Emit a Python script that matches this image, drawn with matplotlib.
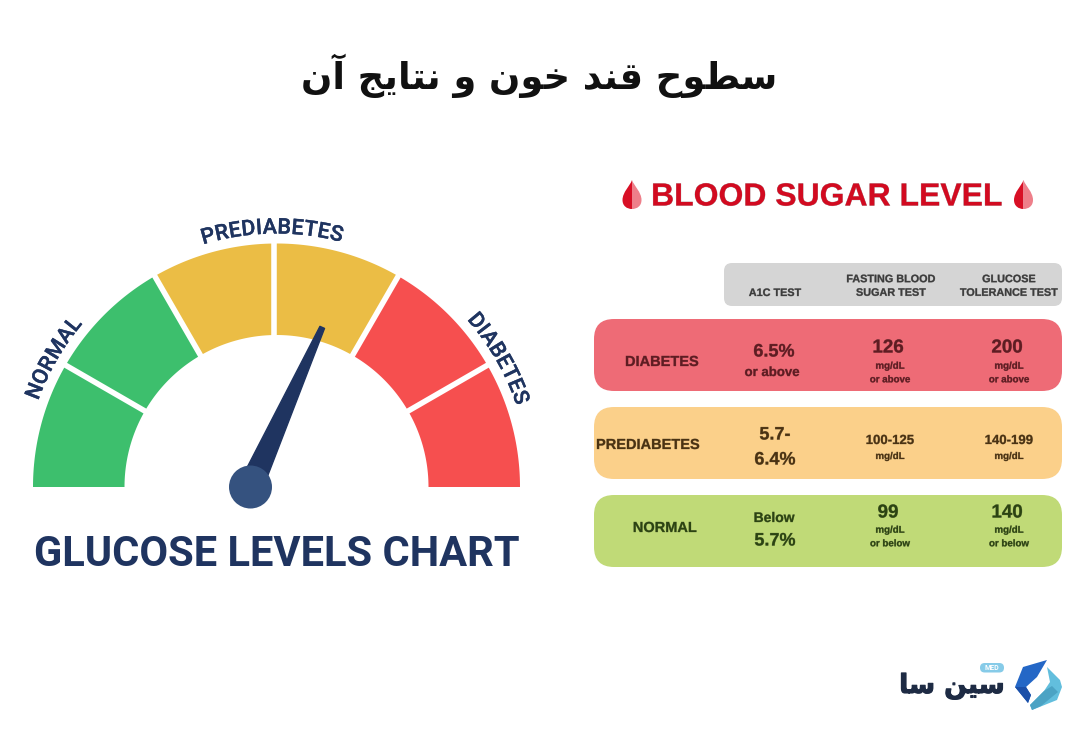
import numpy as np
from matplotlib import patheffects as pe
from matplotlib import pyplot as plt
from matplotlib.font_manager import FontProperties
from matplotlib.patches import Circle, FancyBboxPatch, PathPatch, Polygon
from matplotlib.path import Path
from matplotlib.textpath import TextPath

# Persian text is stored shaped, in visual order, because matplotlib does no shaping
page_title = "\uFEE5\uFE81 \uFE9E\uFBFE\uFE8E\uFE98\uFEE7 \uFEED \uFEE5\uFEEE\uFEA7 \uFEAA\uFEE8\uFED7 \uFEA1\uFEEE\uFEC4\uFEB3"
logo_text = "\uFE8E\uFEB3 \uFEE6\uFBFF\uFEB3"

# gauge
gauge_names = ["NORMAL", "PREDIABETES", "DIABETES"]
gauge_spans = [60, 60, 60]
gauge_colors = ["#3DBF6D", "#EBBD45", "#F64F4F"]
needle_angle = 65.8

# table
columns = ["A1C TEST", "FASTING BLOOD\nSUGAR TEST", "GLUCOSE\nTOLERANCE TEST"]
rows = ["DIABETES", "PREDIABETES", "NORMAL"]
a1c_big = ["6.5%", "5.7-\n6.4%", "Below\n5.7%"]
fasting_big = ["126", "100-125", "99"]
fasting_small = ["mg/dL\nor above", "mg/dL", "mg/dL\nor below"]
tolerance_big = ["200", "140-199", "140"]
tolerance_small = ["mg/dL\nor above", "mg/dL", "mg/dL\nor below"]
row_colors = ["#EE6B76", "#FBD08A", "#C0DA77"]
row_text_colors = ["#5E1C22", "#4A3212", "#2B4312"]

NAVY = "#1F3460"
CX, CY = 276.5, 487
R_OUT, R_IN = 243.5, 152
BOLDER = [pe.withStroke(linewidth=0.4, foreground="black", alpha=0.35)]


def polar(r, deg, cx=CX, cy=CY):
    a = np.radians(deg)
    return cx + r * np.cos(a), cy - r * np.sin(a)


def curved_label(ax, label, mid_deg, radius, size):
    # one rotated text per letter along the arc
    font = FontProperties(family="Roboto", weight="medium", size=size)
    scale = 100 / 72
    base = TextPath((0, 0), "HH", prop=font).get_extents().width
    widths = [(TextPath((0, 0), "H" + ch + "H", prop=font).get_extents().width - base) * scale + 0.5
              for ch in label]
    pos = -sum(widths) / 2
    for ch, w in zip(label, widths):
        deg = mid_deg - np.degrees((pos + w / 2) / radius)
        x, y = polar(radius, deg)
        ax.text(x, y, ch, fontproperties=font, color=NAVY, rotation=deg - 90,
                rotation_mode="anchor", ha="center", va="center",
                path_effects=[pe.withStroke(linewidth=0.25, foreground=NAVY)])
        pos += w


def rounded(ax, x, y, w, h, rad, color):
    ax.add_patch(FancyBboxPatch((x + rad, y + rad), w - 2 * rad, h - 2 * rad,
                                boxstyle=f"round,pad={rad},rounding_size={rad}",
                                fc=color, ec="none"))


def drop(ax, x, y):
    # left half dark, right half light
    w, top, bot = 9.5, 15, 14
    left = [(x, y - top), (x - 2, y - 9), (x - w, y - 3), (x - w, y + 5),
            (x - w, y + bot - 3), (x - 5, y + bot), (x, y + bot), (x, y - top)]
    right = [(x, y - top), (x + 2, y - 9), (x + w, y - 3), (x + w, y + 5),
             (x + w, y + bot - 3), (x + 5, y + bot), (x, y + bot), (x, y - top)]
    codes = [Path.MOVETO] + [Path.CURVE4] * 6 + [Path.CLOSEPOLY]
    ax.add_patch(PathPatch(Path(left, codes), fc="#D80F25", ec="none"))
    ax.add_patch(PathPatch(Path(right, codes), fc="#EE7F8A", ec="none"))


def cell(ax, x, y, s, size, color, **kw):
    ax.text(x, y, s, family="Liberation Sans", weight="bold", fontsize=size, color=color,
            ha="center", va="center", path_effects=BOLDER, **kw)


fig = plt.figure(figsize=(10.8, 7.3), dpi=100)
ax = fig.add_axes([0, 0, 1, 1])
ax.set_xlim(0, 1080)
ax.set_ylim(730, 0)
ax.axis("off")

ax.text(539, 76, page_title, family="DejaVu Sans", weight="bold", fontsize=26.5,
        color="#111111", ha="center", va="center")

# Gauge sections, each one split in two halves by a white line
start = 180
for span, color in zip(gauge_spans, gauge_colors):
    angles = np.linspace(start, start - span, 80)
    xo, yo = polar(R_OUT, angles)
    xi, yi = polar(R_IN, angles[::-1])
    ax.add_patch(Polygon(np.column_stack([np.r_[xo, xi], np.r_[yo, yi]]), fc=color, ec="none"))
    start -= span

for deg in [150, 120, 90, 60, 30]:
    x, y = polar(np.array([R_IN - 4, R_OUT + 3]), deg)
    ax.plot(x - (2.5 if deg == 90 else 0), y, color="white", lw=4.0, solid_capstyle="butt")

for name, mid in zip(gauge_names, [150, 91, 30]):
    curved_label(ax, name, mid, 259, 15.5)

# Needle
hub_x, hub_y = 250.5, 487
tip_x, tip_y = polar(175, needle_angle, hub_x, hub_y)
n = np.radians(needle_angle + 90)
nx, ny = np.cos(n), -np.sin(n)
ax.add_patch(Polygon([(hub_x + 12 * nx, hub_y + 12 * ny), (tip_x + 2.5 * nx, tip_y + 2.5 * ny),
                      (tip_x - 2.5 * nx, tip_y - 2.5 * ny), (hub_x - 12 * nx, hub_y - 12 * ny)],
                     fc=NAVY, ec=NAVY, lw=1, joinstyle="round"))
ax.add_patch(Circle((hub_x, hub_y), 21.5, fc="#35527F", ec="none"))

ax.text(276.5, 566.5, "GLUCOSE LEVELS CHART", family="Roboto", weight="bold", fontsize=30,
        color=NAVY, ha="center", va="baseline")

# Right panel
ax.text(827, 197.5, "BLOOD SUGAR LEVEL", family="Liberation Sans", weight="bold", fontsize=23,
        color="#D20A20", ha="center", va="center", path_effects=BOLDER)
drop(ax, 632, 195)
drop(ax, 1023.5, 195)

rounded(ax, 724, 263, 338, 43, 8, "#D5D5D5")
for x, y, name in zip([775, 891, 1009], [293, 286, 286], columns):
    cell(ax, x, y, name, 7.8, "#3C3C3C", linespacing=1.45)

row_top = [319, 407, 495]
label_x = [662, 648, 665]
label_dy = [43, 38, 33]
big_dy = [29, 34, 18]
small_dy = [53.5, 49, 41.5]
for i, (top, name) in enumerate(zip(row_top, rows)):
    tc = row_text_colors[i]
    rounded(ax, 594, top, 468, 72, 20, row_colors[i])
    cell(ax, label_x[i], top + label_dy[i], name, 10.5, tc)

    # A1C column
    if i == 0:
        cell(ax, 774, top + 33, a1c_big[i], 13, tc)
        cell(ax, 772, top + 54, "or above", 9.5, tc)
    elif i == 1:
        five, six = a1c_big[i].split("\n")
        cell(ax, 775, top + 28, five, 13, tc)
        cell(ax, 775, top + 53, six, 13, tc)
    else:
        below, val = a1c_big[i].split("\n")
        cell(ax, 774, top + 23, below, 10, tc)
        cell(ax, 775, top + 46, val, 13, tc)

    # mg/dL columns
    size = 9.5 if i == 1 else 13.5
    for bx, sx, big, small in zip([888, 1007], [890, 1009], [fasting_big[i], tolerance_big[i]],
                                  [fasting_small[i], tolerance_small[i]]):
        cell(ax, bx + (2 if i == 1 else 0), top + big_dy[i], big, size, tc)
        cell(ax, sx, top + small_dy[i], small, 7, tc, linespacing=1.45)

# Logo
ax.text(952, 693, logo_text, family="DejaVu Sans", weight="bold", fontsize=19,
        color="#1E2B44", ha="center", va="baseline",
        path_effects=[pe.withStroke(linewidth=0.8, foreground="#1E2B44")])
rounded(ax, 980, 663, 24, 9.5, 4.7, "#86CBE8")
ax.text(992, 667.7, "MED", family="Roboto", weight="bold", fontsize=5, color="white",
        ha="center", va="center")
ax.add_patch(Polygon([(1047, 660), (1023, 667), (1015, 687), (1028, 703), (1031, 695),
                      (1026, 687), (1037, 677)], fc="#2467C6", ec="none"))
ax.add_patch(Polygon([(1015, 687), (1028, 703), (1031, 695), (1026, 687)], fc="#1B4FA8", ec="none"))
ax.add_patch(Polygon([(1047, 667), (1060, 680), (1062, 687), (1057, 700), (1032, 710), (1030, 705),
                      (1044, 691), (1050, 682)], fc="#62BEDD", ec="none"))
ax.add_patch(Polygon([(1044, 691), (1030, 705), (1032, 710), (1041, 706), (1058, 692), (1052, 686)],
                     fc="#4BA3C4", ec="none"))

fig.savefig("out.png", dpi=100)
